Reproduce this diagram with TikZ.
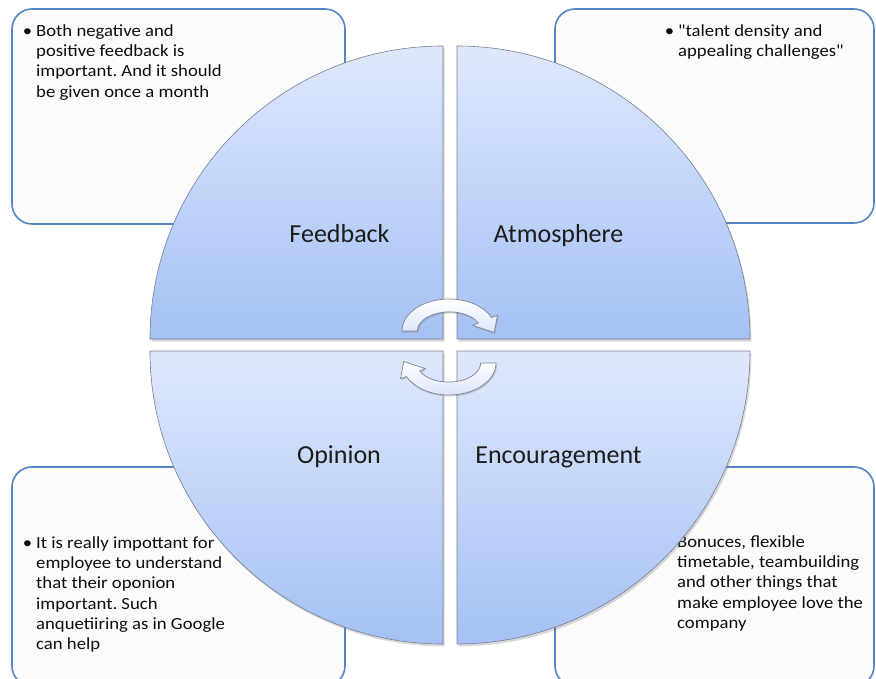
\documentclass[tikz,border=0pt]{standalone}
\usepackage{fontspec}
\setmainfont{Carlito}
\newfontfamily\notefont[FakeStretch=1.1]{Carlito}
\usetikzlibrary{shadows}
\frenchspacing
\definecolor{boxline}{RGB}{84,132,196}
\definecolor{boxfill}{RGB}{251,251,251}
\definecolor{quadtop}{RGB}{222,232,251}
\definecolor{quadbot}{RGB}{165,193,245}
\definecolor{quadline}{RGB}{118,128,146}
\definecolor{turnline}{RGB}{125,133,148}
\definecolor{turnfill}{RGB}{220,230,250}
\definecolor{labeltext}{RGB}{28,28,28}

\begin{document}
\begin{tikzpicture}[x=1pt,y=-1pt,
    notebox/.style={draw=boxline, line width=1.6pt, rounded corners=20pt, fill=boxfill},
    note/.style={font=\notefont\fontsize{17}{20.3}\selectfont, align=left, anchor=north west, inner sep=0pt, text=black!95},
    quad/.style={draw=quadline, line width=0.6pt, top color=quadtop, bottom color=quadbot,
        drop shadow={opacity=0.3, shadow xshift=1.5pt, shadow yshift=-2.5pt}},
    quadlabel/.style={font=\fontsize{26}{30}\selectfont, text=labeltext, inner sep=0pt, anchor=base},
    turn/.style={draw=turnline, line width=0.7pt, top color=white, bottom color=turnfill,
        drop shadow={opacity=0.35, shadow xshift=1pt, shadow yshift=-1.5pt}}]
    \useasboundingbox (0,0) rectangle (876,679);
    \clip (0,0) rectangle (876,679);

    %% Note boxes behind the circle
    \draw[notebox] (12,9) rectangle (345,224);
    \draw[notebox] (555,9) rectangle (874,223);
    \draw[notebox] (12,467) rectangle (345,686);
    \draw[notebox] (555,467) rectangle (874,686);

    %% first baselines at 36 and 548 (strut height 14.2)
    \node[note] (fbnote) at (36,21.8) {\strut\llap{\textbullet\hspace{4pt}}Both negative and\\positive feedback is\\important. And it should\\be given once a month};
    \node[note] (atnote) at (678,21.8) {\strut\llap{\textbullet\hspace{4pt}}"talent density and\\appealing challenges"};
    \node[note] (opnote) at (36,533.8) {\strut\llap{\textbullet\hspace{4pt}}It is really impottant for\\employee to understand\\that their oponion\\important. Such\\anquetiiring as in Google\\can help};
    \node[note] (ennote) at (677,532.8) {\strut Bonuces, flexible\\timetable, teambuilding\\and other things that\\make employee love the\\company};

    %% The four quarters
    \draw[quad] (443,339) -- ++(-293,0) arc[start angle=180, end angle=270, radius=293] -- cycle;
    \draw[quad] (457,339) -- ++(0,-293) arc[start angle=270, end angle=360, radius=293] -- cycle;
    \draw[quad] (443,351) -- ++(-293,0) arc[start angle=180, end angle=90, radius=293] -- cycle;
    \draw[quad] (457,351) -- ++(293,0) arc[start angle=0, end angle=90, radius=293] -- cycle;

    \node[quadlabel] (feedback) at (339.5,243) {Feedback};
    \node[quadlabel] (atmosphere) at (558.5,243) {Atmosphere};
    \node[quadlabel] (opinion) at (339,463) {Opinion};
    \node[quadlabel] (encourage) at (558.5,463) {Encouragement};

    %% Turning arrows in the middle
    \draw[turn] (417,331) -- (402,331) arc[start angle=180, end angle=335, x radius=47, y radius=32]
        -- (497.5,315.3) -- (494.2,332.5) -- (472.8,325.4) -- (478.4,322.9)
        arc[start angle=335, end angle=180, x radius=32, y radius=19] -- cycle;
    \draw[turn] (482,363) -- (496,363) arc[start angle=0, end angle=155, x radius=47, y radius=32]
        -- (400.5,378.7) -- (403.8,361.5) -- (425.2,368.6) -- (419.6,371.1)
        arc[start angle=155, end angle=0, x radius=32, y radius=19] -- cycle;
\end{tikzpicture}
\end{document}
